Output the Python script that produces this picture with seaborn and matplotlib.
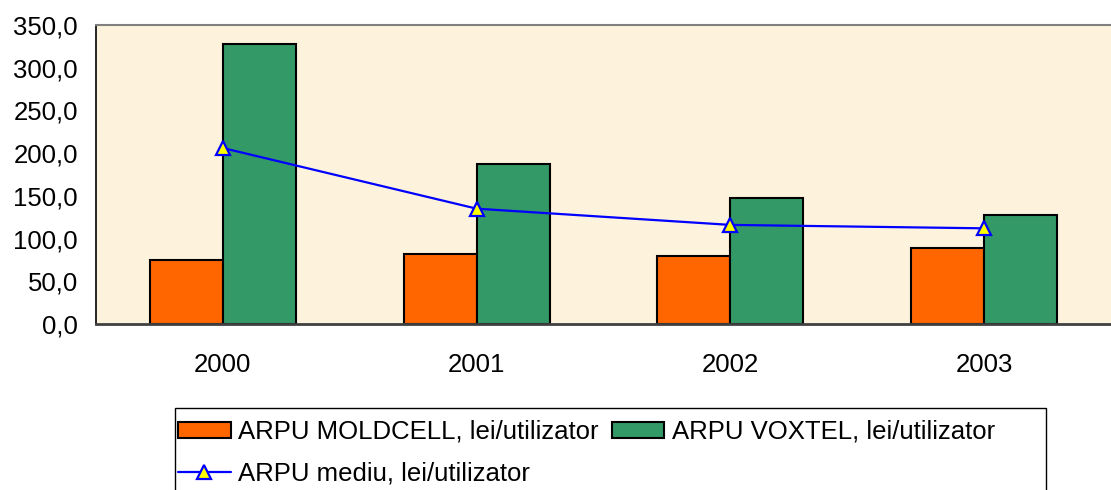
import numpy as np
import pandas as pd
import matplotlib
matplotlib.use("Agg")
import matplotlib.pyplot as plt
import matplotlib.patches as mpatches
import seaborn as sns

# data
years = ["2000", "2001", "2002", "2003"]
arpu_moldcell = [75.0, 82.0, 80.0, 89.0]
arpu_voxtel = [328.0, 187.0, 147.0, 128.0]
arpu_mediu = [206.0, 135.0, 116.0, 112.0]

label_moldcell = "ARPU MOLDCELL, lei/utilizator"
label_voxtel = "ARPU VOXTEL, lei/utilizator"
label_mediu = "ARPU mediu, lei/utilizator"

df = pd.DataFrame({
    "an": years * 2,
    "arpu": arpu_moldcell + arpu_voxtel,
    "serie": [label_moldcell] * 4 + [label_voxtel] * 4,
})

sns.set_theme(style="white")
plt.rcParams["font.family"] = ["Liberation Sans", "DejaVu Sans"]
plt.rcParams["text.color"] = "black"
plt.rcParams["xtick.color"] = "black"
plt.rcParams["ytick.color"] = "black"
FS = 18.5

fig = plt.figure(figsize=(11.11, 4.90), dpi=100)
W, H = 1111, 490
ax = fig.add_axes([96 / W, 1 - 324 / H, (W - 96) / W, 299 / H])
ax.set_facecolor("#fdf3dc")

sns.barplot(data=df, x="an", y="arpu", hue="serie", ax=ax,
            palette=["#ff6600", "#339966"], width=0.575,
            edgecolor="black", linewidth=1.5, saturation=1)

sns.lineplot(x=np.arange(len(years)), y=arpu_mediu, ax=ax, color="#0000ff",
             linewidth=1.6, marker="^", markersize=10, markerfacecolor="#ffff00",
             markeredgecolor="#0000ff", markeredgewidth=1.6, label=label_mediu)

ax.set_xlim(-0.5, len(years) - 0.5)
ax.set_ylim(0, 350)
ax.set_xlabel("")
ax.set_ylabel("")

yt = np.arange(0, 351, 50)
ax.set_yticks(yt)
ax.set_yticklabels([f"{v:.1f}".replace(".", ",") for v in yt], fontsize=FS)
ax.tick_params(axis="y", direction="out", length=6, width=1, color="black",
               labelcolor="black", pad=7)

ax.set_xticks(np.arange(len(years)))
ax.set_xticklabels(years, fontsize=FS)
ax.tick_params(axis="x", which="major", length=0, pad=21, labelcolor="black")
ax.set_xticks(np.arange(-0.5, len(years)), minor=True)
ax.tick_params(axis="x", which="minor", direction="inout", length=11, width=1, color="black")

ax.spines["right"].set_visible(False)
ax.spines["left"].set_color("black")
ax.spines["left"].set_linewidth(1.2)
ax.spines["bottom"].set_color("#404040")
ax.spines["bottom"].set_linewidth(2)
ax.spines["top"].set_color("#808080")
ax.spines["top"].set_linewidth(1.5)

handles, labels = ax.get_legend_handles_labels()
order = [labels.index(label_moldcell), labels.index(label_mediu), labels.index(label_voxtel)]
leg = ax.legend([handles[i] for i in order], [labels[i] for i in order],
                ncol=2, loc="upper left", bbox_to_anchor=(178 / W, 1 - 420 / H),
                bbox_transform=fig.transFigure, frameon=False, fontsize=FS,
                handlelength=2.05, handleheight=0.55, handletextpad=0.3,
                columnspacing=0.5, labelspacing=0.68, borderpad=0,
                borderaxespad=0)
for t in leg.get_texts():
    t.set_color("black")

# legend box (Excel-style, with extra room on the right)
fig.patches.append(mpatches.Rectangle((175 / W, -0.05), (1046 - 175) / W, 0.05 + 1 - 408 / H,
                                      transform=fig.transFigure, fill=False,
                                      edgecolor="black", linewidth=1))

fig.savefig("out.png", dpi=100)
